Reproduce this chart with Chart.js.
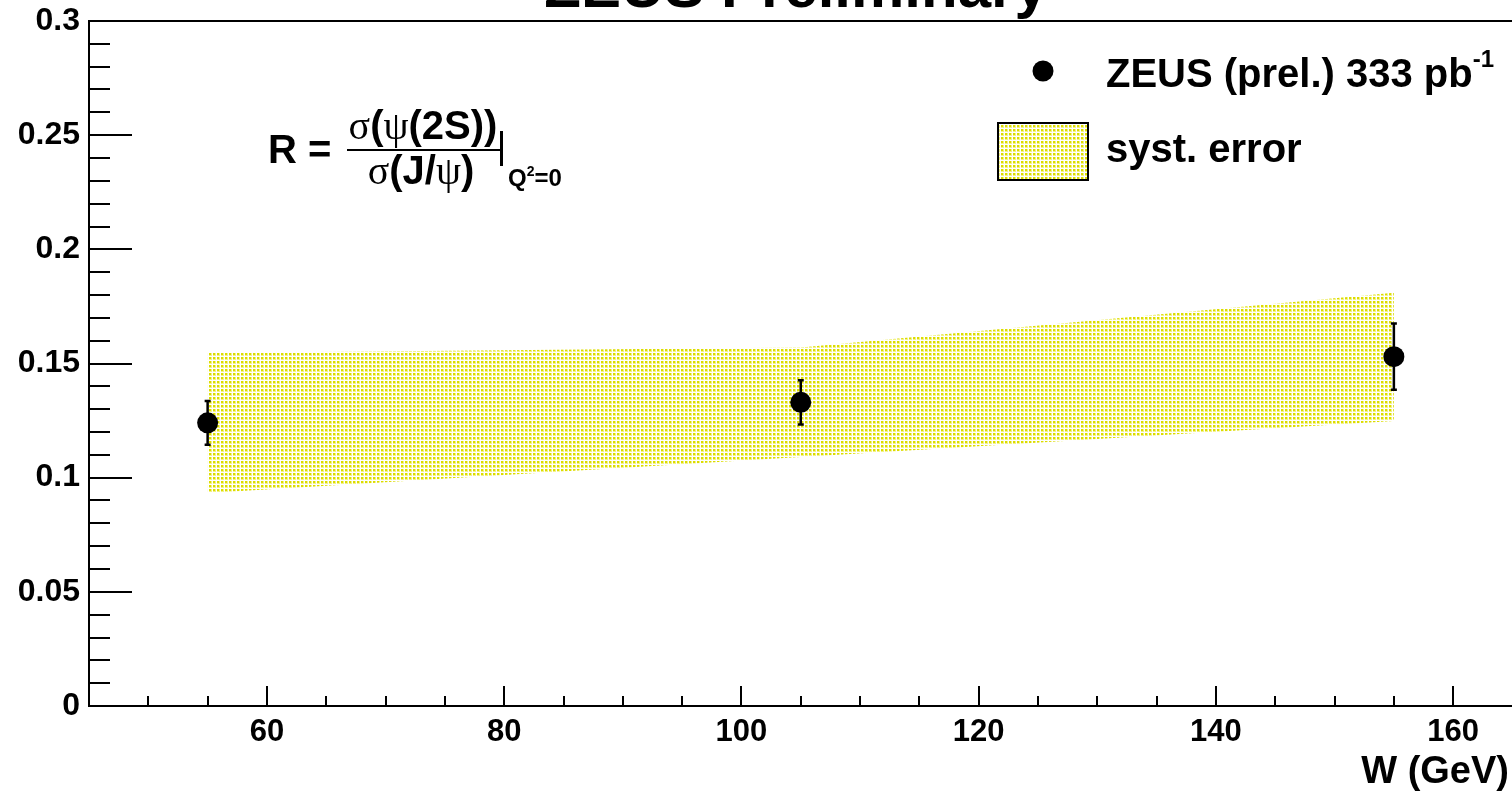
<!DOCTYPE html>
<html>
<head>
<meta charset="utf-8">
<script src="https://cdn.jsdelivr.net/npm/chart.js@4"></script>
<style>
html,body{margin:0;padding:0;background:#fff;overflow:hidden;}
#c{display:block;}
</style>
</head>
<body>
<canvas id="c" width="1523" height="791"></canvas>
<script>
// ---- data ----
const W = [55, 105, 155];
const R = [0.124, 0.133, 0.153];
const statErr = [0.0096, 0.0097, 0.0145];
const systUpper = [0.1546, 0.157, 0.181];
const systLower = [0.0933, 0.109, 0.1248];
const xTickValues = [60, 80, 100, 120, 140, 160];
const xTickLabels = ['60', '80', '100', '120', '140', '160'];
const yTickValues = [0, 0.05, 0.1, 0.15, 0.2, 0.25, 0.3];
const yTickLabels = ['0', '0.05', '0.1', '0.15', '0.2', '0.25', '0.3'];
const titleText = 'ZEUS Preliminary';
const xAxisTitle = 'W (GeV)';
const legendData = 'ZEUS (prel.) 333 pb';
const legendDataSup = '-1';
const legendSyst = 'syst. error';

const SANS = '"Liberation Sans", Arial, Helvetica, sans-serif';
const SERIF = '"Liberation Serif", "Times New Roman", serif';

const canvas = document.getElementById('c');
const ctx0 = canvas.getContext('2d');

function makePattern(ctx) {
  const t = document.createElement('canvas');
  t.width = 4; t.height = 4;
  const g = t.getContext('2d');
  g.fillStyle = '#ffffff';
  g.fillRect(0, 0, 4, 4);
  g.fillStyle = 'rgb(242,242,135)';
  g.fillRect(1, 1, 3, 3);
  g.fillStyle = 'rgb(220,220,0)';
  g.fillRect(1, 1, 2, 2);
  return ctx.createPattern(t, 'repeat');
}
const bandPattern = makePattern(ctx0);

function drawSegments(ctx, x, y, segs, align) {
  let total = 0;
  segs.forEach(s => { ctx.font = s[1]; total += ctx.measureText(s[0]).width; });
  let cx = align === 'center' ? x - total / 2 : x;
  segs.forEach(s => {
    ctx.font = s[1];
    ctx.fillText(s[0], cx, y + (s[2] || 0));
    cx += ctx.measureText(s[0]).width;
  });
}

const decorPlugin = {
  id: 'decor',
  afterDatasetDraw(chart, args) {
    if (args.index !== 1) return;
    const ctx = chart.ctx;
    const xs = chart.scales.x, ys = chart.scales.y;
    ctx.save();
    ctx.strokeStyle = '#000';
    ctx.lineWidth = 2.5;
    for (let i = 0; i < W.length; i++) {
      const px = xs.getPixelForValue(W[i]);
      const pt = ys.getPixelForValue(R[i] + statErr[i]);
      const pb = ys.getPixelForValue(R[i] - statErr[i]);
      ctx.beginPath();
      ctx.moveTo(px, pt); ctx.lineTo(px, pb);
      ctx.moveTo(px - 3, pt); ctx.lineTo(px + 3, pt);
      ctx.moveTo(px - 3, pb); ctx.lineTo(px + 3, pb);
      ctx.stroke();
    }
    ctx.restore();
  },
  afterDraw(chart) {
    const ctx = chart.ctx;
    const a = chart.chartArea;
    const xs = chart.scales.x, ys = chart.scales.y;
    ctx.save();
    ctx.strokeStyle = '#000';
    ctx.lineWidth = 2;
    ctx.beginPath();
    ctx.moveTo(a.left - 1, a.top); ctx.lineTo(a.right, a.top);
    ctx.stroke();
    ctx.beginPath();
    for (let k = 1; k < 30; k++) {
      const v = k * 0.01;
      const py = Math.round(ys.getPixelForValue(v));
      const len = (k % 5 === 0) ? 43 : 21;
      ctx.moveTo(a.left, py); ctx.lineTo(a.left + len, py);
    }
    for (let v = 50; v < 165; v += 5) {
      const px = Math.round(xs.getPixelForValue(v));
      const len = (v % 20 === 0) ? 20 : 10;
      ctx.moveTo(px, a.bottom); ctx.lineTo(px, a.bottom - len);
    }
    ctx.stroke();

    ctx.fillStyle = '#000';
    ctx.textBaseline = 'alphabetic';
    ctx.textAlign = 'center';
    ctx.font = 'bold 60px ' + SANS;
    ctx.fillText(titleText, 796, 7);
    ctx.textAlign = 'right';
    ctx.font = 'bold 38px ' + SANS;
    ctx.fillText(xAxisTitle, 1509, 783);

    ctx.textAlign = 'left';
    ctx.beginPath();
    ctx.arc(1043, 71, 10.5, 0, Math.PI * 2);
    ctx.fill();
    drawSegments(ctx, 1106, 87, [
      [legendData, 'bold 40px ' + SANS, 0],
      [legendDataSup, 'bold 24px ' + SANS, -20]
    ], 'left');
    ctx.fillStyle = bandPattern;
    ctx.fillRect(998, 123, 90, 57);
    ctx.strokeStyle = '#000';
    ctx.lineWidth = 2;
    ctx.strokeRect(998, 123, 90, 57);
    ctx.fillStyle = '#000';
    ctx.font = 'bold 40px ' + SANS;
    ctx.fillText(legendSyst, 1106, 162);

    ctx.font = 'bold 40px ' + SANS;
    ctx.fillText('R =', 268, 163);
    drawSegments(ctx, 423, 139, [
      ['\u03c3', '40px ' + SERIF], ['(', 'bold 40px ' + SANS],
      ['\u03c8', '40px ' + SERIF], ['(2S))', 'bold 40px ' + SANS]
    ], 'center');
    drawSegments(ctx, 421, 184, [
      ['\u03c3', '40px ' + SERIF], ['(J/', 'bold 40px ' + SANS],
      ['\u03c8', '40px ' + SERIF], [')', 'bold 40px ' + SANS]
    ], 'center');
    ctx.beginPath();
    ctx.lineWidth = 2;
    ctx.moveTo(347, 150); ctx.lineTo(500, 150);
    ctx.stroke();
    ctx.beginPath();
    ctx.lineWidth = 3;
    ctx.moveTo(501.5, 131); ctx.lineTo(501.5, 166);
    ctx.stroke();
    drawSegments(ctx, 508, 186, [
      ['Q', 'bold 24px ' + SANS, 0], ['2', 'bold 14px ' + SANS, -10],
      ['=0', 'bold 24px ' + SANS, 0]
    ], 'left');
    ctx.restore();
  }
};

new Chart(canvas, {
  type: 'scatter',
  data: {
    datasets: [
      {
        label: legendData,
        data: W.map((w, i) => ({ x: w, y: R[i] })),
        showLine: false,
        pointRadius: 10.5,
        pointHoverRadius: 10.5,
        pointBackgroundColor: '#000',
        pointBorderColor: '#000',
        pointBorderWidth: 0
      },
      {
        label: 'syst upper',
        data: W.map((w, i) => ({ x: w, y: systUpper[i] })),
        showLine: true,
        borderColor: 'rgba(0,0,0,0)',
        borderWidth: 0,
        pointRadius: 0,
        fill: false
      },
      {
        label: legendSyst,
        data: W.map((w, i) => ({ x: w, y: systLower[i] })),
        showLine: true,
        borderColor: 'rgba(0,0,0,0)',
        borderWidth: 0,
        pointRadius: 0,
        fill: '-1',
        backgroundColor: bandPattern
      }
    ]
  },
  options: {
    responsive: false,
    animation: false,
    devicePixelRatio: 1,
    events: [],
    layout: { padding: { left: 0, top: 21, right: 0, bottom: 0 } },
    plugins: {
      legend: { display: false },
      tooltip: { enabled: false },
      title: { display: false }
    },
    scales: {
      x: {
        type: 'linear',
        min: 45, max: 165,
        afterFit: s => { s.height = 85; s.paddingLeft = 0; s.paddingRight = 0; s.paddingTop = 0; s.paddingBottom = 0; },
        afterBuildTicks: s => { s.ticks = xTickValues.map(v => ({ value: v })); },
        grid: { display: false, drawTicks: false, tickLength: 0 },
        border: { display: true, color: '#000', width: 2 },
        ticks: {
          autoSkip: false, maxRotation: 0, minRotation: 0,
          padding: 8,
          color: '#000',
          font: { family: SANS, weight: 'bold', size: 31 },
          callback: (v, i) => xTickLabels[i]
        }
      },
      y: {
        type: 'linear',
        min: 0, max: 0.3,
        afterFit: s => { s.width = 89; s.paddingLeft = 0; s.paddingRight = 0; s.paddingTop = 0; s.paddingBottom = 0; },
        afterBuildTicks: s => { s.ticks = yTickValues.map(v => ({ value: v })); },
        grid: { display: false, drawTicks: false, tickLength: 0 },
        border: { display: true, color: '#000', width: 2 },
        ticks: {
          autoSkip: false,
          padding: 9,
          color: '#000',
          font: { family: SANS, weight: 'bold', size: 32 },
          callback: (v, i) => yTickLabels[i]
        }
      }
    }
  },
  plugins: [decorPlugin]
});
</script>
</body>
</html>
